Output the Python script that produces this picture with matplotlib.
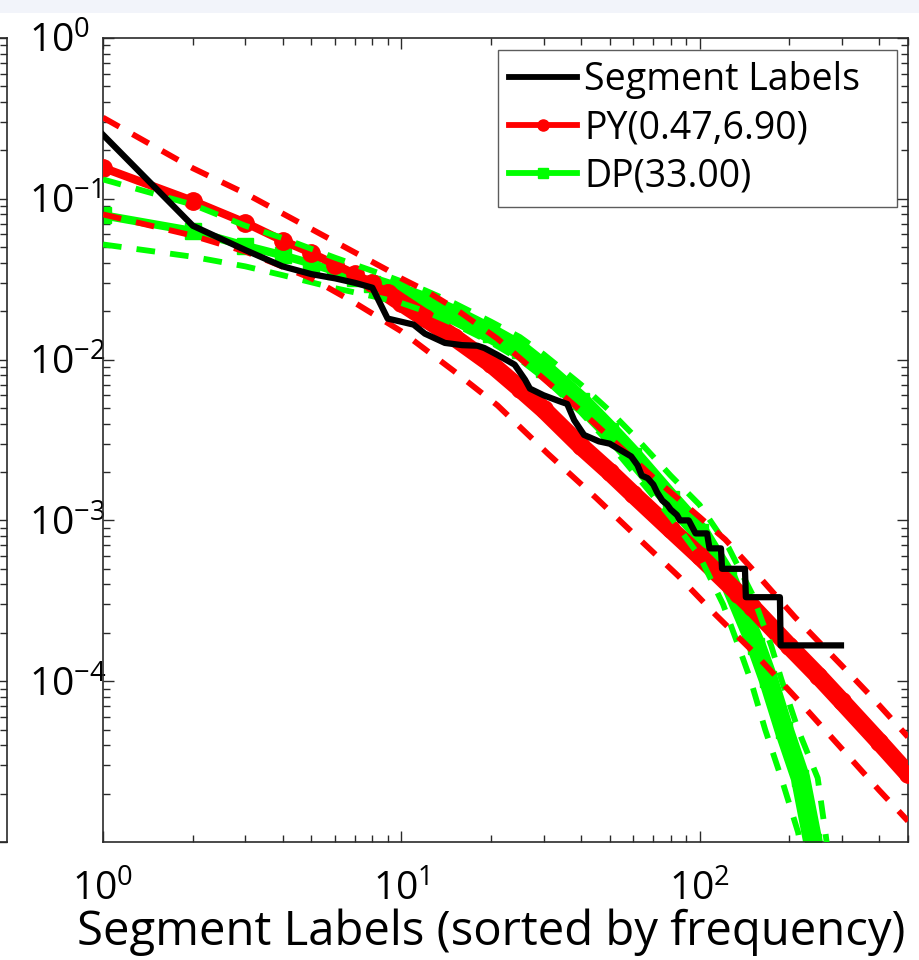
import matplotlib
matplotlib.use('Agg')
import matplotlib.pyplot as plt
from matplotlib.lines import Line2D
from matplotlib.patches import Rectangle
import numpy as np

plt.rcParams['font.family'] = ['Open Sans', 'DejaVu Sans']
plt.rcParams['mathtext.fontset'] = 'custom'
plt.rcParams['mathtext.rm'] = 'Open Sans'
plt.rcParams['mathtext.it'] = 'Open Sans:italic'
plt.rcParams['mathtext.bf'] = 'Open Sans:bold'

# empirical label frequencies, sorted by rank
seg_rank = [1, 2, 3, 4, 5, 6, 7, 8, 9, 10, 11, 12, 14, 16, 18, 19, 21, 24, 26, 27,
            30, 34, 36, 38, 41, 46, 50, 55, 59, 62, 64, 67, 70, 72, 75, 78, 80, 84,
            86, 92, 97, 106, 108, 118, 119, 142, 143, 186, 187, 298]
seg_freq = [0.25, 0.068, 0.048, 0.038, 0.034, 0.032, 0.030, 0.028, 0.018, 0.0172,
            0.0165, 0.0145, 0.0127, 0.0123, 0.0122, 0.0118, 0.0107, 0.0093, 0.0075, 0.0066,
            0.0060, 0.0055, 0.0053, 0.0042, 0.0034, 0.0031, 0.0030, 0.0027, 0.0025, 0.0022,
            0.0019, 0.00183, 0.00167, 0.0015, 0.00133, 0.00125, 0.00117, 0.00108,
            0.00100, 0.00100, 0.00083, 0.00083, 0.00067, 0.00067, 0.00050, 0.00050,
            0.000333, 0.000333, 0.000167, 0.000167]

# Pitman-Yor fit and bounds
py_rank = [1, 2, 3, 4, 5, 6, 7, 8, 9, 10, 12, 15, 20, 25, 30, 40, 50, 60, 80, 100,
           135, 150, 200, 250, 300, 400, 500]
py_freq = [0.156, 0.097, 0.071, 0.055, 0.046, 0.039, 0.034, 0.030, 0.0258, 0.0226,
           0.0181, 0.0138, 0.0094, 0.0066, 0.0049, 0.0029, 0.0020, 0.00145, 0.00088,
           0.00060, 0.00035, 0.00029, 0.000165, 0.000108, 0.000075, 0.000042, 0.0000265]
py_up_rank = [1, 2, 3, 4, 6, 9, 10, 12, 15, 21, 28, 40, 70, 100, 122, 150, 209, 300, 375, 500]
py_up_freq = [0.32, 0.155, 0.108, 0.081, 0.054, 0.036, 0.032, 0.027, 0.021, 0.0135,
              0.0085, 0.0048, 0.00185, 0.00105, 0.00076, 0.00050, 0.00025, 0.000125,
              0.000081, 0.000045]
py_lo_rank = [1, 2, 3, 5, 7, 10, 15, 21, 31, 45, 64, 85, 113, 150, 213, 300, 400, 500]
py_lo_freq = [0.080, 0.059, 0.047, 0.032, 0.0225, 0.0150, 0.0085, 0.0052, 0.0026,
              0.00138, 0.00074, 0.00045, 0.00026, 0.000155, 0.000077, 0.000038,
              0.000021, 0.0000135]

# Dirichlet process fit and bounds
dp_rank = [1, 2, 3, 4, 5, 6, 7, 8, 9, 10, 12, 15, 20, 25, 30, 40, 50, 60, 80, 100,
           125, 155, 170, 192, 218, 240, 255]
dp_freq = [0.079, 0.063, 0.051, 0.0445, 0.0395, 0.0355, 0.032, 0.0295, 0.0275, 0.0258,
           0.0228, 0.019, 0.0145, 0.0115, 0.0088, 0.0055, 0.0036, 0.0025, 0.00135,
           0.00085, 0.00043, 0.000166, 0.000103, 0.00005, 0.000025, 0.0000100, 0.000005]
dp_up_rank = [1, 2, 3, 4, 6, 9, 12, 15, 20, 25, 30, 40, 50, 60, 80, 100, 125, 150,
              174, 188, 214, 249, 265, 280]
dp_up_freq = [0.132, 0.092, 0.068, 0.057, 0.043, 0.033, 0.027, 0.0225, 0.0172, 0.0138,
              0.0108, 0.0070, 0.0048, 0.0034, 0.0019, 0.00125, 0.00068, 0.00035,
              0.000166, 0.000103, 0.00005, 0.000025, 0.000011, 0.000005]
dp_lo_rank = [1, 2, 3, 4, 6, 8, 10, 12, 15, 20, 25, 30, 40, 50, 60, 80, 100, 120, 135,
              148, 166, 188, 214, 225]
dp_lo_freq = [0.052, 0.0436, 0.038, 0.0335, 0.0278, 0.0248, 0.0225, 0.0200, 0.0167,
              0.0128, 0.0100, 0.0077, 0.0047, 0.0030, 0.0020, 0.00105, 0.00060, 0.00030,
              0.000166, 0.000103, 0.00005, 0.000025, 0.0000115, 0.000007]

x_ticks = [1, 10, 100]
y_ticks = [1e-4, 1e-3, 1e-2, 1e-1, 1]
legend_labels = ['Segment Labels', 'PY(0.47,6.90)', 'DP(33.00)']

red = '#ff0000'
green = '#00ff00'
spine_col = '#2a2a2a'

fig = plt.figure(figsize=(9.2, 9.6), dpi=100)
fig.patches.append(Rectangle((0, 1 - 13 / 960), 1, 13 / 960, transform=fig.transFigure,
                             facecolor='#f2f4fa', edgecolor='none', zorder=0))

L, B, W, H = 103 / 920, 118 / 960, 805 / 920, 804 / 960

# sliver of the neighbouring panel on the left
axp = fig.add_axes([(7 - 805) / 920, B, W, H])
axp.set_yscale('log')
axp.set_ylim(1e-5, 1)
axp.set_xticks([])
axp.yaxis.tick_right()
axp.tick_params(which='both', direction='in', labelright=False, color=spine_col, width=1)
axp.tick_params(which='major', length=8)
axp.tick_params(which='minor', length=5)
for s in axp.spines.values():
    s.set_color(spine_col)
    s.set_linewidth(1.2)

ax = fig.add_axes([L, B, W, H])
ax.set_xscale('log')
ax.set_yscale('log')

py_rank = np.array(py_rank)
py_freq = np.array(py_freq)
dp_rank = np.array(dp_rank)
dp_freq = np.array(dp_freq)

# DP: line with squares, the dense part merges into a band
ax.plot(dp_rank, dp_freq, '-', color=green, lw=6, marker='s', ms=11, mec=green, zorder=2)
m = dp_rank >= 8
ax.plot(dp_rank[m], dp_freq[m], '-', color=green, lw=14, solid_capstyle='round',
        solid_joinstyle='round', zorder=2)

# PY
ax.plot(py_rank, py_freq, '-', color=red, lw=6, marker='o', ms=12.5, mec=red, zorder=3)
m = py_rank >= 9
ax.plot(py_rank[m], py_freq[m], '-', color=red, lw=13, solid_capstyle='round',
        solid_joinstyle='round', zorder=3)

for r, f, c in [(dp_up_rank, dp_up_freq, green), (dp_lo_rank, dp_lo_freq, green),
                (py_up_rank, py_up_freq, red), (py_lo_rank, py_lo_freq, red)]:
    ax.plot(r, f, '--', color=c, lw=4.2, dashes=(3.2, 2.6), zorder=4)

ax.plot(seg_rank, seg_freq, '-', color='black', lw=4.5, zorder=6)

ax.set_xlim(1, 500)
ax.set_ylim(1e-5, 1)
ax.set_xticks(x_ticks)
ax.set_yticks(y_ticks)
ax.tick_params(which='both', direction='in', top=True, right=True, width=1, color=spine_col)
ax.tick_params(which='major', length=8, labelsize=28)
ax.tick_params(axis='x', which='major', pad=20.5)
ax.tick_params(axis='y', which='major', pad=53)
ax.tick_params(which='minor', length=5)
for lab in ax.get_yticklabels():
    lab.set_horizontalalignment('left')
for s in ax.spines.values():
    s.set_color(spine_col)
    s.set_linewidth(1.2)

ax.set_xlabel('Segment Labels (sorted by frequency)', fontsize=34)
ax.xaxis.set_label_coords((491 - 103) / 805, -(908 - 842) / 804)

handles = [Line2D([], [], color='black', lw=4.2),
           Line2D([], [], color=red, lw=4.2, marker='o', ms=8),
           Line2D([], [], color=green, lw=4.2, marker='s', ms=7.5)]
leg = ax.legend(handles, legend_labels, loc='upper left', mode='expand', fontsize=27,
                bbox_to_anchor=((498 - 103) / 805, 0, (897 - 498) / 805, (842 - 50) / 804),
                frameon=True, fancybox=False, edgecolor='#333333', handlelength=1.8,
                handletextpad=0.2, borderpad=0.3, labelspacing=0.27, borderaxespad=0)
leg.get_frame().set_linewidth(1.0)
leg.set_zorder(10)

fig.savefig('out.png', dpi=100)
